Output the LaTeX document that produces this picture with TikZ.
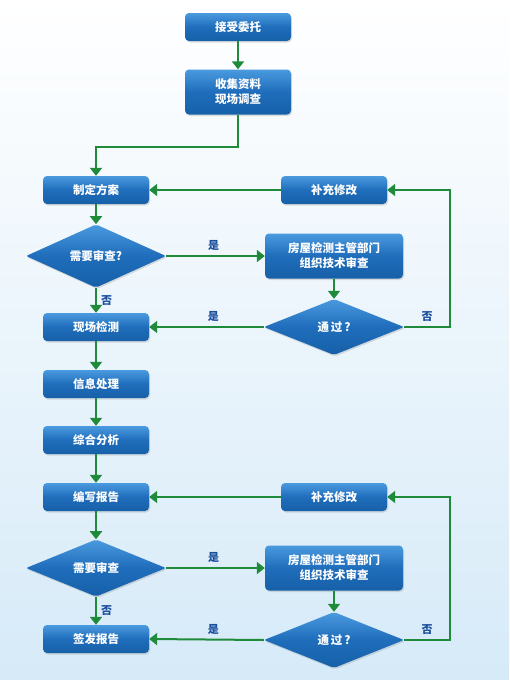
\documentclass[tikz,border=0pt]{standalone}
\usepackage{fontspec}
\newfontfamily\cjk{Noto Sans CJK SC}
\usetikzlibrary{shapes.geometric,arrows.meta,shadows}
\definecolor{boxtop}{HTML}{4A9ADF}
\definecolor{boxmid}{HTML}{1F6DBB}
\definecolor{boxbot}{HTML}{1660A8}
\definecolor{arrgreen}{HTML}{1F8A3A}
\definecolor{lblblue}{HTML}{1B4F9C}
\definecolor{bgbot}{HTML}{D6EAF8}
\begin{document}
\begin{tikzpicture}[x=1pt,y=-1pt,
  box/.style={rectangle, rounded corners=4pt, minimum width=106pt, minimum height=28pt,
    top color=boxtop, bottom color=boxbot, middle color=boxmid, draw=none, text=white, align=center,
    font=\cjk\bfseries\fontsize{11.5}{15}\selectfont,
    drop shadow={opacity=0.25, shadow xshift=1pt, shadow yshift=-1.5pt}},
  dia/.style={diamond, inner sep=0pt, minimum width=140pt, minimum height=56pt,
    rounded corners=2pt, top color=boxtop, bottom color=boxbot, middle color=boxmid, draw=none, text=white,
    font=\cjk\bfseries\fontsize{11.5}{15}\selectfont,
    drop shadow={opacity=0.25, shadow xshift=1pt, shadow yshift=-1.5pt}},
  arr/.style={draw=arrgreen, line width=2pt, -{Triangle[length=8pt,width=12pt]}},
  lbl/.style={text=lblblue, font=\cjk\bfseries\fontsize{11}{13}\selectfont, inner sep=1pt}]
\fill[top color=white, bottom color=bgbot] (0,0) rectangle (509,680);
\useasboundingbox (0,0) rectangle (509,680);
% nodes
\node[box] (a) at (238,27) {接受委托};
\node[box, minimum height=45pt] (b) at (238,92) {收集资料\\现场调查};
\node[box] (c) at (96,190) {制定方案};
\node[box] (f1) at (334,190) {补充修改};
\node[dia] (d1) at (96,256) {需要审查?};
\node[box, minimum width=138pt, minimum height=45pt] (r1) at (334,256) {房屋检测主管部门\\组织技术审查};
\node[dia] (p1) at (334,327) {通\,过\,?};
\node[box] (e) at (96,327) {现场检测};
\node[box] (g) at (96,384) {信息处理};
\node[box] (h) at (96,440) {综合分析};
\node[box] (i) at (96,497) {编写报告};
\node[box] (f2) at (334,497) {补充修改};
\node[dia] (d2) at (96,568) {需要审查};
\node[box, minimum width=138pt, minimum height=45pt] (r2) at (334,568) {房屋检测主管部门\\组织技术审查};
\node[dia] (p2) at (334,640) {通\,过\,?};
\node[box] (k) at (96,639) {签发报告};
% connectors
\draw[arr] (a) -- (b);
\draw[arr] (b.south) -- ++(0,32) -| (c.north);
\draw[arr] (f1) -- (c);
\draw[arr] (c) -- (d1);
\draw[arr] (d1.east) -- node[lbl, above=3pt, pos=0.48] {是} (r1.west);
\draw[arr] (d1.south) -- node[lbl, right=3pt] {否} (e.north);
\draw[arr] (r1) -- (p1);
\draw[arr] (p1.west) -- node[lbl, above=3pt, pos=0.44] {是} (e.east);
\draw[arr] (p1.east) -- node[lbl, above=3pt] {否} ++(46,0) |- (f1.east);
\draw[arr] (e) -- (g);
\draw[arr] (g) -- (h);
\draw[arr] (h) -- (i);
\draw[arr] (f2) -- (i);
\draw[arr] (i) -- (d2);
\draw[arr] (d2.east) -- node[lbl, above=3pt, pos=0.48] {是} (r2.west);
\draw[arr] (d2.south) -- node[lbl, right=3pt] {否} (k.north);
\draw[arr] (r2) -- (p2);
\draw[arr] (p2.west) -- node[lbl, above=3pt, pos=0.44] {是} (k.east);
\draw[arr] (p2.east) -- node[lbl, above=3pt] {否} ++(46,0) |- (f2.east);
\end{tikzpicture}
\end{document}
